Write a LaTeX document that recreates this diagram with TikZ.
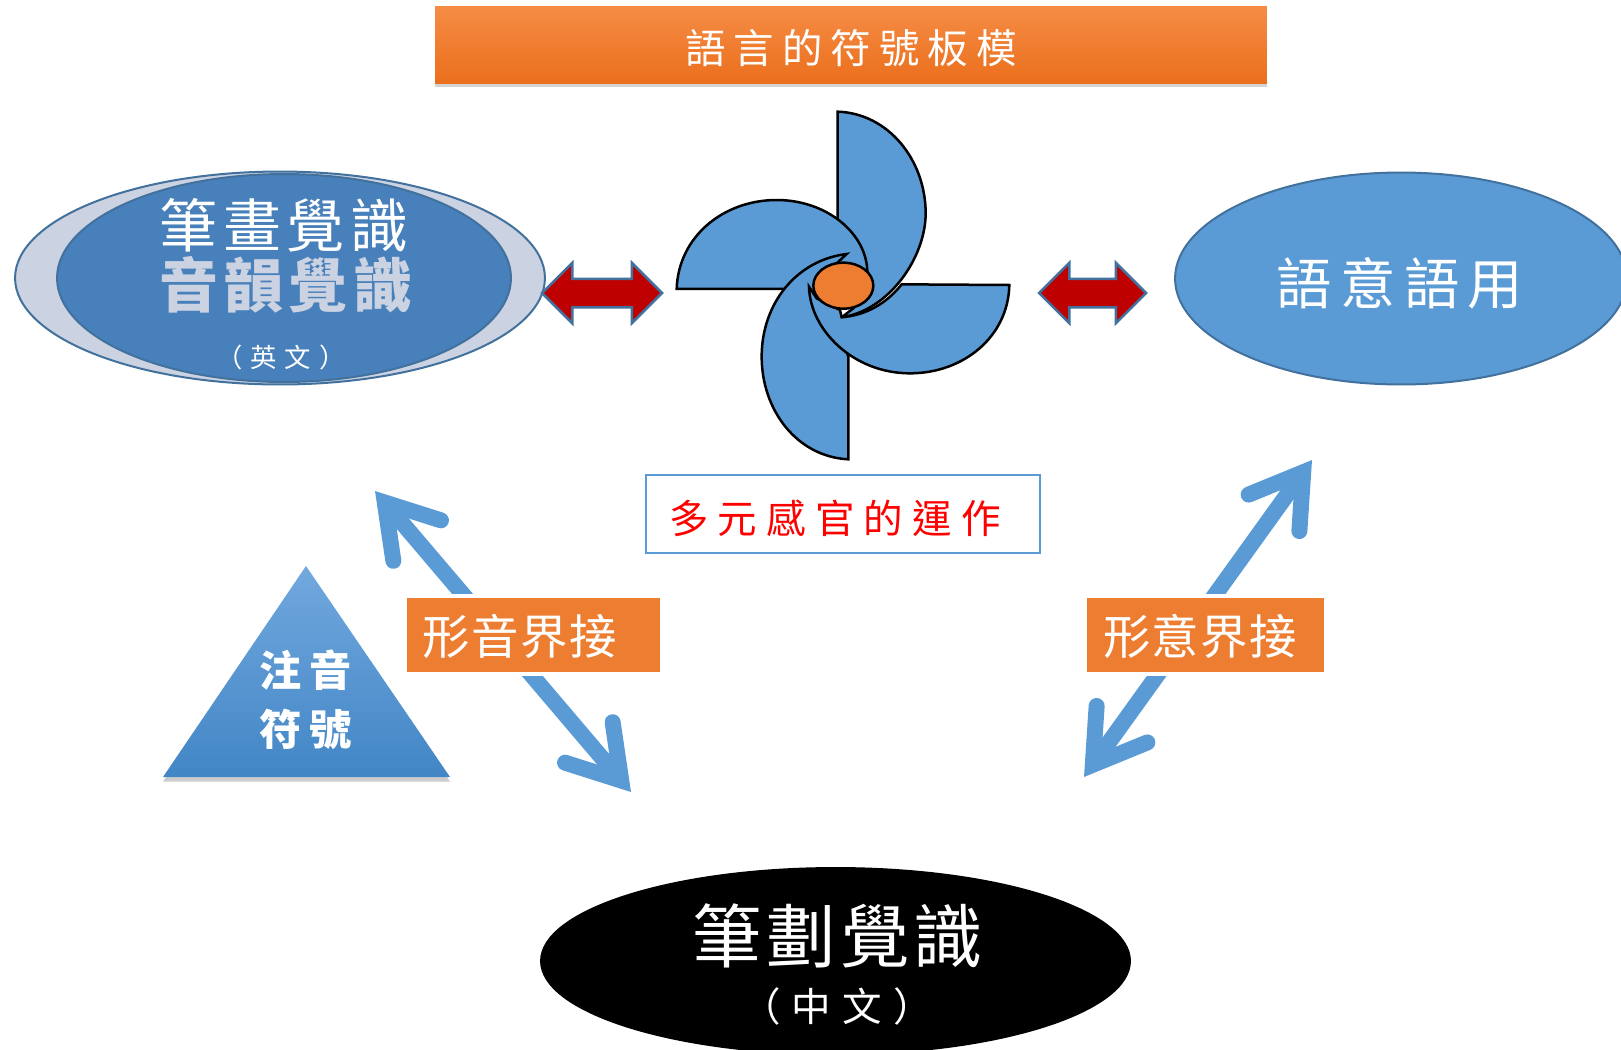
\documentclass[tikz,border=0pt]{standalone}
\usepackage{fontspec}
\newfontfamily\cjk{Noto Sans CJK TC}
\usetikzlibrary{arrows.meta,shapes.geometric,shapes.arrows,shadows}
\newcommand{\cjksize}[2]{\fontsize{#1}{#1}\selectfont\addfontfeature{LetterSpace=#2}}
\definecolor{waterblue}{HTML}{5B9BD5}
\definecolor{rimblue}{HTML}{41719C}
\definecolor{deepblue}{HTML}{4780BA}
\definecolor{tagorange}{HTML}{ED7D31}
\definecolor{paleblue}{HTML}{CBD2E1}
\definecolor{titletop}{HTML}{F58C45}
\definecolor{titlebot}{HTML}{EB6F1C}
\definecolor{triangletop}{HTML}{72A8DE}
\definecolor{trianglebot}{HTML}{4286C6}
\begin{document}
\begin{tikzpicture}[
      x=0.02cm, y=-0.02cm,
      font=\cjk,
      nodes={inner sep=0pt},
      oval/.style={ellipse, draw=rimblue, line width=0.04cm, fill=waterblue},
      twinarrow/.style={double arrow, draw=rimblue, line width=0.05cm, fill=red!75!black,
        inner ysep=0.26cm, double arrow head extend=0.32cm},
      linkarrow/.style={draw=waterblue, line width=0.32cm,
        {Straight Barb[length=1cm, width=1.25cm, line cap=round, line join=miter]}-{Straight Barb[length=1cm, width=1.25cm, line cap=round, line join=miter]}},
      linktag/.style={fill=tagorange, draw=white, line width=0.08cm, minimum height=1.56cm},
      tagtext/.style={text=white, font={\cjk\cjksize{27}{3}}},
      blade/.style={fill=waterblue, draw=black, line width=0.05cm, line join=miter}
    ]
      \useasboundingbox (0,0) rectangle (1621,1049);

      % title
      \node (Title) at (851,45) [minimum width=16.64cm, minimum height=1.54cm, top color=titletop,
        bottom color=titlebot, drop shadow={shadow xshift=0pt, shadow yshift=-0.07cm, opacity=0.35}] {};
      \node (TitleText) at (851,48) [text=white, font={\cjk\cjksize{23}{20}}] {語言的符號板模};

      % left and right ovals
      \node (Outer) at (280,278) [oval, fill=paleblue, minimum width=10.6cm, minimum height=4.26cm] {};
      \node (Inner) at (284,278) [oval, fill=deepblue, minimum width=9.08cm, minimum height=4.16cm] {};
      \node (Stroke) at (284,225) [text=white, font={\cjk\cjksize{33}{10}}] {筆畫覺識};
      \node (Sound) at (286,285) [text=paleblue, font={\cjk\bfseries\cjksize{33.5}{10}}] {音韻覺識};
      \node (English) at (281,357) [text=white, font={\cjk\cjksize{15}{30}}] {（英文）};
      \node (Meaning) at (1401,278.5) [oval, minimum width=9.04cm, minimum height=4.24cm] {};
      \node (MeaningText) at (1400,283) [text=white, font={\cjk\cjksize{31.5}{15}}] {語意語用};

      % red arrows
      \node (LeftTwin) at (602,293) [twinarrow, minimum height=2.4cm] {};
      \node (RightTwin) at (1092.5,293) [twinarrow, minimum height=2.14cm] {};

      % pinwheel, in crop coordinates
      \begin{scope}[shift={(640,90)}, x=0.00667cm, y=-0.00667cm]
        \draw[blade] (593,65) .. controls (745,70) and (857,210) .. (857,370)
          .. controls (857,500) and (750,660) .. (605,682) -- (640,655) -- (610,590) -- (593,450) -- cycle;
        \draw[blade] (110,597) .. controls (115,440) and (250,330) .. (410,330)
          .. controls (560,330) and (680,430) .. (682,545) -- (610,590) -- (430,597) -- cycle;
        \draw[blade] (625,1108) .. controls (470,1100) and (365,960) .. (365,800)
          .. controls (365,640) and (470,510) .. (620,492) -- (590,520) -- (600,590) -- (590,690) -- (625,800) -- cycle;
        \draw[blade] (1108,585) -- (785,583) .. controls (740,640) and (680,675) .. (605,682)
          -- (600,660) -- (530,625) -- (507,590)
          .. controls (510,720) and (640,850) .. (810,850) .. controls (970,850) and (1105,740) .. cycle;
        \node (Hub) at (610,587) [ellipse, fill=tagorange, draw=black, line width=0.05cm,
          minimum width=1.2cm, minimum height=0.92cm] {};
      \end{scope}

      % caption box
      \node (Senses) at (843,514) [draw=waterblue, line width=0.05cm, fill=white, minimum width=7.88cm,
        minimum height=1.56cm] {};
      \node (SensesText) at (835,518) [text=red, font={\cjk\cjksize{22.5}{23}}] {多元感官的運作};

      % link arrows
      \coordinate (SoundTip) at (375,491);
      \coordinate (StrokeTip) at (631,792);
      \coordinate (MeanTip) at (1312,460);
      \coordinate (DrawTip) at (1084,777);
      \draw[linkarrow] (SoundTip) -- (StrokeTip);
      \draw[linkarrow] (MeanTip) -- (DrawTip);
      \node (FormSound) at (533.5,634.5) [linktag, minimum width=5.14cm] {};
      \node (FormSoundText) at (520,636) [tagtext] {形音界接};
      \node (FormMean) at (1205.5,634.5) [linktag, minimum width=4.82cm] {};
      \node (FormMeanText) at (1200,636) [tagtext] {形意界接};

      % triangle
      \path[top color=triangletop, bottom color=trianglebot,
        drop shadow={shadow xshift=0pt, shadow yshift=-0.09cm, opacity=0.4}]
        (306,566) -- (163,777) -- (450,777) -- cycle;
      \node (Bopo) at (306,670) [text=white, font={\cjk\bfseries\cjksize{24}{19}}] {注音};
      \node (Marks) at (306,729) [text=white, font={\cjk\bfseries\cjksize{24}{19}}] {符號};

      % bottom oval
      \node (Chinese) at (835.5,961) [ellipse, fill=black, minimum width=11.82cm, minimum height=3.76cm] {};
      \node (StrokeCn) at (838,936) [text=white, font={\cjk\cjksize{39.5}{6}}] {筆劃覺識};
      \node (ChineseTag) at (837,1006) [text=white, font={\cjk\cjksize{22.5}{28}}] {（中文）};
    \end{tikzpicture}
\end{document}
